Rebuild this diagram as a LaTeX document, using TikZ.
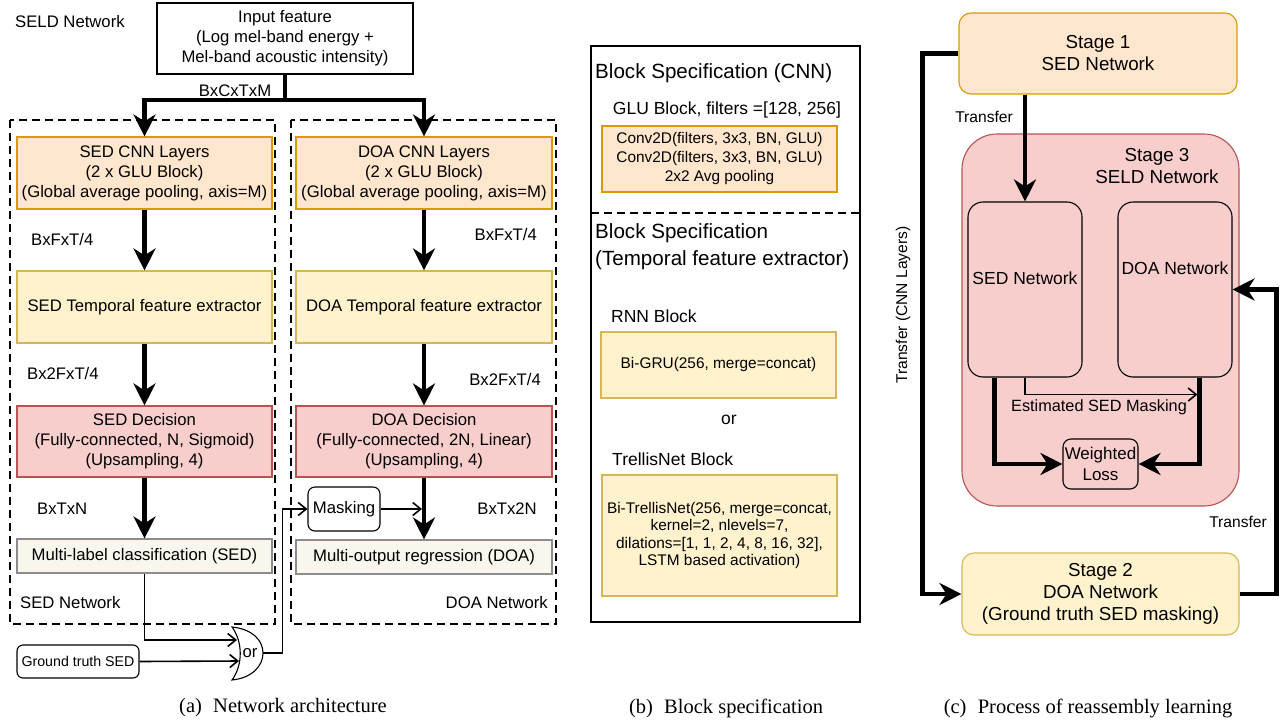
\documentclass[tikz,border=0pt]{standalone}
\usepackage{fontspec}
\setmainfont{Liberation Sans}
\newfontfamily\capfont{Liberation Serif}
\usetikzlibrary{arrows.meta,calc}
\definecolor{orfill}{HTML}{FFE6CC}
\definecolor{orline}{HTML}{D79B00}
\definecolor{yfill}{HTML}{FFF2CC}
\definecolor{yline}{HTML}{D6B656}
\definecolor{rfill}{HTML}{F8CECC}
\definecolor{rline}{HTML}{B85450}
\definecolor{gfill}{HTML}{F9F7ED}
\definecolor{gline}{HTML}{8C8C8C}
\newcommand\fszA{\fontsize{16.7}{20}\selectfont}
\newcommand\fszB{\fontsize{15.4}{19}\selectfont}
\newcommand\fszH{\fontsize{20.6}{27}\selectfont}
\newcommand\fszM{\fontsize{17.5}{21}\selectfont}
\newcommand\fszS{\fontsize{18.8}{22}\selectfont}
\newcommand\fszT{\fontsize{15.6}{19}\selectfont}
\begin{document}
\begin{tikzpicture}[x=1pt,y=-1pt,
  bx/.style={draw, line width=1.1pt, inner sep=0pt, align=center, font=\fszA},
  cnn/.style={bx, fill=orfill, draw=orline},
  tfe/.style={bx, fill=yfill, draw=yline},
  dec/.style={bx, fill=rfill, draw=rline},
  outb/.style={bx, fill=gfill, draw=gline},
  lbl/.style={inner sep=0pt, font=\fszA},
  thk/.style={line width=4.2pt, -{Stealth[length=22pt,width=22pt,inset=7pt]}},
  thn/.style={line width=1.6pt, -{Straight Barb[length=8pt,width=13pt]}},
  dbox/.style={line width=2pt, dash pattern=on 8pt off 5pt},
]
\useasboundingbox (0,0) rectangle (1283,723);

% ---------------- Panel (a) ----------------
\draw[dbox] (10,120) rectangle (275,624);
\draw[dbox] (291,120) rectangle (556,624);

\node[lbl, anchor=west] (seldlbl) at (15,22) {SELD Network};
\node[bx, draw=black, fill=white, minimum width=256pt, minimum height=71pt] (in) at (285,38.5)
  {Input feature\\(Log mel-band energy +\\Mel-band acoustic intensity)};

\node[cnn, minimum width=255pt, minimum height=72pt] (sedcnn) at (144.5,173)
  {SED CNN Layers\\(2 x GLU Block)\\(Global average pooling, axis=M)};
\node[cnn, minimum width=256pt, minimum height=72pt] (doacnn) at (424,173)
  {DOA CNN Layers\\(2 x GLU Block)\\(Global average pooling, axis=M)};
\node[tfe, minimum width=255pt, minimum height=72pt] (sedtfe) at (144.5,307)
  {SED Temporal feature extractor};
\node[tfe, minimum width=256pt, minimum height=72pt] (doatfe) at (424,307)
  {DOA Temporal feature extractor};
\node[dec, minimum width=255pt, minimum height=71pt] (seddec) at (144.5,441.5)
  {SED Decision\\(Fully-connected, N, Sigmoid)\\(Upsampling, 4)};
\node[dec, minimum width=256pt, minimum height=71pt] (doadec) at (424,441.5)
  {DOA Decision\\(Fully-connected, 2N, Linear)\\(Upsampling, 4)};
\node[outb, minimum width=255pt, minimum height=34pt] (mlc) at (144.5,556)
  {Multi-label classification (SED)};
\node[outb, minimum width=256pt, minimum height=34pt] (mor) at (424,557)
  {Multi-output regression (DOA)};

\node[bx, rounded corners=7pt, fill=white, minimum width=72pt, minimum height=44pt] (mask) at (344,509) {Masking};
\node[bx, rounded corners=6pt, fill=white, font=\fontsize{14.2}{17}\selectfont, minimum width=122pt, minimum height=33pt] (gt) at (78,661.5) {Ground truth SED};

% or gate
\draw[line width=1.1pt, fill=white] (232,627) .. controls (252,629) and (263,640) .. (263,653)
  .. controls (263,666) and (252,678) .. (232,680)
  .. controls (243,665) and (243,642) .. (232,627) -- cycle;
\node[lbl] (orgate) at (250,653) {or};
\coordinate (orin1) at (237,640);
\coordinate (orin2) at (239,661);
\coordinate (orout) at (263,653);

% labels
\node[lbl] (l1) at (235,91) {BxCxTxM};
\node[lbl, anchor=west] (l2) at (31,240) {BxFxT/4};
\node[lbl, anchor=east] (l3) at (537,235) {BxFxT/4};
\node[lbl, anchor=west] (l4) at (27,374) {Bx2FxT/4};
\node[lbl, anchor=east] (l5) at (541,380) {Bx2FxT/4};
\node[lbl, anchor=west] (l6) at (37,509) {BxTxN};
\node[lbl, anchor=east] (l7) at (537,509) {BxTx2N};
\node[lbl, anchor=west] (l8) at (20,603) {SED Network};
\node[lbl, anchor=east] (l9) at (548,603) {DOA Network};

% connectors
\coordinate (split) at (285,100);
\draw[thk] (in.south) -- (split) -| (sedcnn.north);
\draw[thk] (split) -| (doacnn.north);
\draw[thk] (sedcnn) -- (sedtfe);
\draw[thk] (doacnn) -- (doatfe);
\draw[thk] (sedtfe) -- (seddec);
\draw[thk] (doatfe) -- (doadec);
\draw[thk] (seddec) -- (mlc);
\draw[thk] (doadec) -- (mor);
\draw[thn] (mlc.south) |- (orin1);
\draw[thn] (gt.east) -- (orin2);
\draw[thn] (orout) -| ($(mask.west)+(-25,0)$) -- (mask.west);
\draw[thn] (mask.east) -- ($(mask.east -| doadec.south)+(-2,0)$);

\node[font=\capfont\fontsize{20.5}{24}\selectfont, inner sep=0pt] (capa) at (283,708) {(a)\hspace{0.55em}Network architecture};

% ---------------- Panel (b) ----------------
\draw[line width=1.8pt] (591,46) rectangle (860,622);
\draw[line width=2.5pt, dash pattern=on 8pt off 5pt] (591,213) -- (860,213);
\node[lbl, font=\fszH, anchor=west] (h1) at (595,73) {Block Specification (CNN)};
\node[lbl, font=\fszH, anchor=west, align=left] (h2) at (595,247) {Block Specification\\(Temporal feature extractor)};
\node[lbl, font=\fszM] (glu) at (727,110) {GLU Block, filters =[128, 256]};
\node[cnn, font=\fszB, minimum width=235pt, minimum height=66pt] (cnnspec) at (719.5,159)
  {Conv2D(filters, 3x3, BN, GLU)\\Conv2D(filters, 3x3, BN, GLU)\\2x2 Avg pooling};
\node[lbl, font=\fszM, anchor=west] (rnnl) at (611,316) {RNN Block};
\node[tfe, font=\fszB, minimum width=235pt, minimum height=66pt] (rnn) at (718.5,365)
  {Bi-GRU(256, merge=concat)};
\node[lbl, font=\fszM] (orb) at (729,420) {or};
\node[lbl, font=\fszM, anchor=west] (trl) at (612,459) {TrellisNet Block};
\node[tfe, font=\fontsize{15.4}{17.3}\selectfont, minimum width=235pt, minimum height=121pt] (trellis) at (719.5,535.5)
  {Bi-TrellisNet(256, merge=concat,\\kernel=2, nlevels=7,\\dilations=[1, 1, 2, 4, 8, 16, 32],\\LSTM based activation)};
\node[font=\capfont\fontsize{20.5}{24}\selectfont, inner sep=0pt] (capb) at (726,708) {(b)\hspace{0.55em}Block specification};

% ---------------- Panel (c) ----------------
\node[cnn, font=\fszS, rounded corners=12pt, minimum width=278pt, minimum height=81pt] (s1) at (1098,53.5)
  {Stage 1\\SED Network};
\node[dec, rounded corners=35pt, minimum width=277pt, minimum height=372pt] (s3) at (1100.5,320) {};
\node[lbl, font=\fszS, align=center] (s3t) at (1157,166) {Stage 3\\SELD Network};
\node[dec, draw=black, rounded corners=15pt, minimum width=114pt, minimum height=175pt] (sedn) at (1025,289.5) {};
\node[lbl, font=\fszM] (sednt) at (1025,278) {SED Network};
\node[dec, draw=black, rounded corners=15pt, minimum width=114pt, minimum height=175pt] (doan) at (1175,289.5) {};
\node[lbl, font=\fszM] (doant) at (1175,268) {DOA Network};
\node[dec, draw=black, font=\fontsize{17}{21}\selectfont, rounded corners=8pt, minimum width=75pt, minimum height=50pt] (wl) at (1100.5,464)
  {Weighted\\Loss};
\node[tfe, font=\fszS, rounded corners=12pt, minimum width=277pt, minimum height=82pt] (s2) at (1100.5,594)
  {Stage 2\\DOA Network\\(Ground truth SED masking)};

\draw[thk] (sedn.north |- s1.south) -- (sedn.north);
\draw[thk] (s1.west) -- ++(-36,0) |- (s2.west);
\draw[thk] (s2.east) -- ++(37,0) |- (doan.east);
\draw[thk] ($(sedn.south west)+(27,0)$) |- (wl.west);
\draw[thk] ($(doan.south west)+(82,0)$) |- (wl.east);
\coordinate (maskend) at ($(doan.south west)+(80,17)$);
\draw[thn] (sedn.south) |- (maskend);

\node[lbl, font=\fszT] (t1) at (984,117) {Transfer};
\node[lbl, font=\fszT] (t2) at (1238,522) {Transfer};
\node[lbl, font=\fszT, rotate=90] (t3) at (903,305) {Transfer (CNN Layers)};
\node[lbl, font=\fontsize{16.3}{19}\selectfont] (esm) at (1099,407) {Estimated SED Masking};

\node[font=\capfont\fontsize{20.5}{24}\selectfont, inner sep=0pt] (capc) at (1088,708) {(c)\hspace{0.55em}Process of reassembly learning};
\end{tikzpicture}
\end{document}
